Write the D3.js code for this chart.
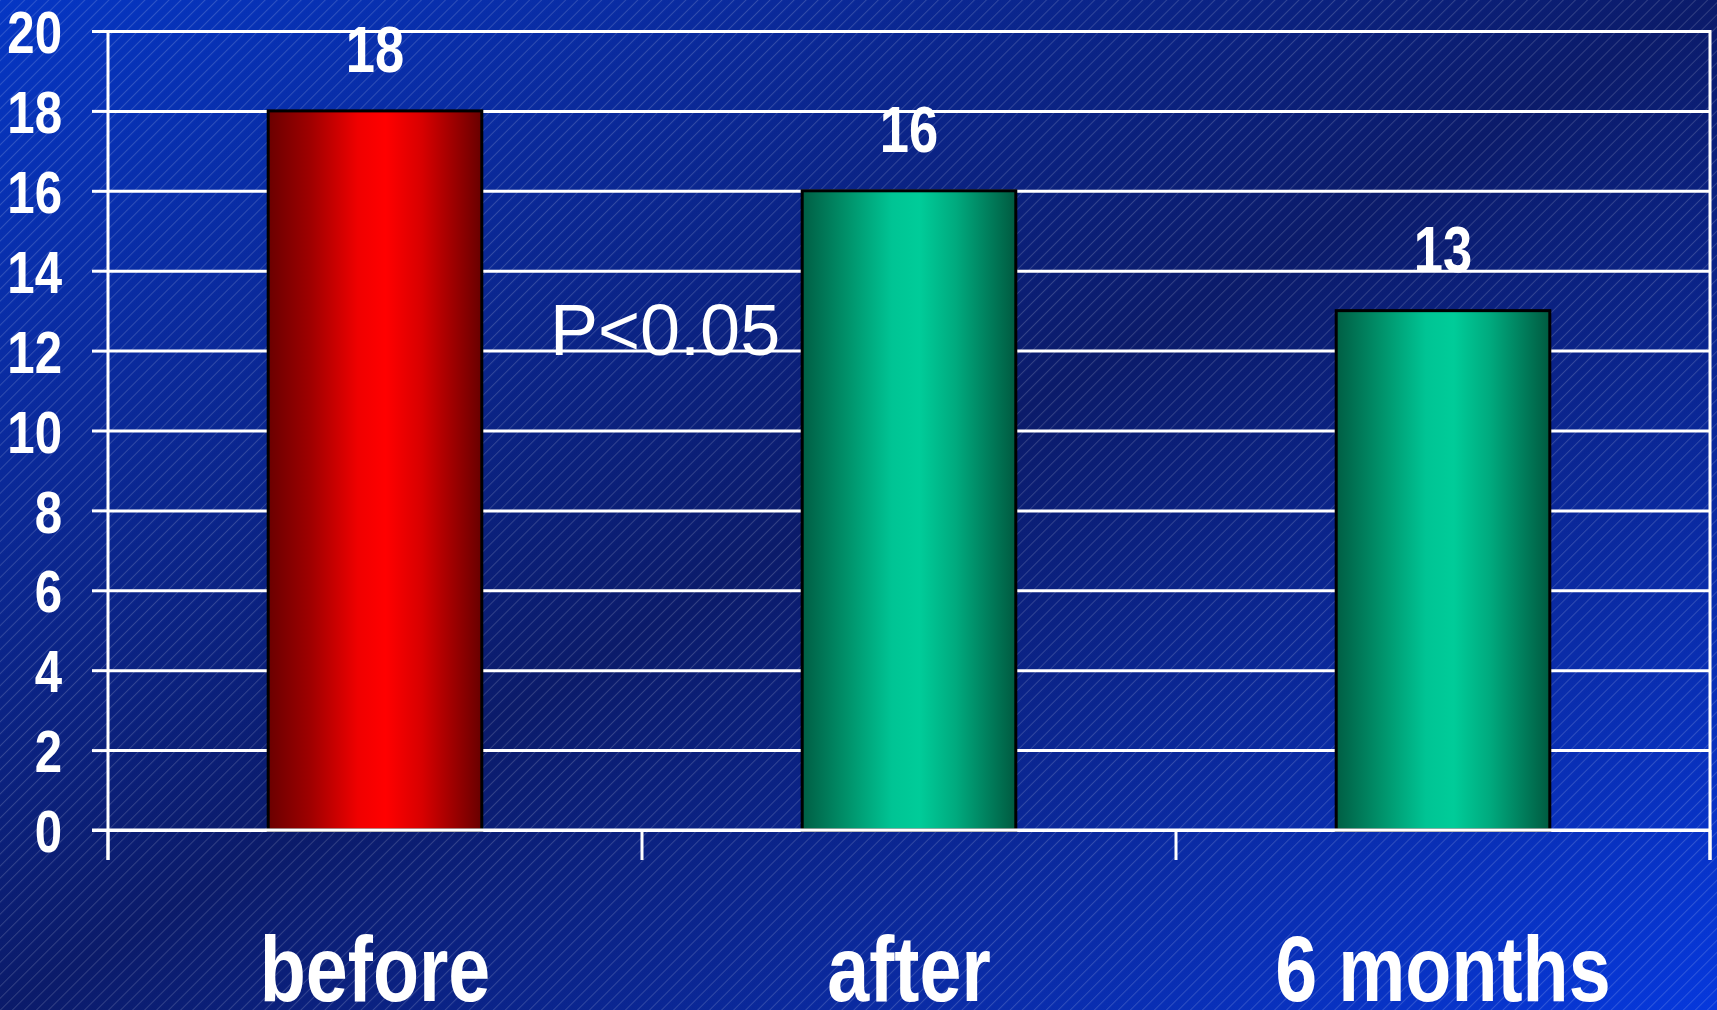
<!DOCTYPE html>
<html>
<head>
<meta charset="utf-8">
<script src="https://cdn.jsdelivr.net/npm/d3@7"></script>
<style>
  html, body { margin: 0; padding: 0; background: #0a1f80; }
  svg { display: block; }
</style>
</head>
<body>
<script>
// Chart data
const categories = ["before", "after", "6 months"];
const values = [18, 16, 13];
const barKinds = ["red", "green", "green"];
const yTicks = [0, 2, 4, 6, 8, 10, 12, 14, 16, 18, 20];
const note = "P<0.05";

const W = 1717, H = 1010;
const margin = { left: 108, right: 7, top: 31 };
const zeroY = 830, tickBottom = 860;
const squeeze = 0.82;   // horizontal compression giving a narrow bold face

const svg = d3.select("body").append("svg")
  .attr("width", W).attr("height", H);

const defs = svg.append("defs");

// Diagonal background: bright corners, dark centre band
const bg = defs.append("linearGradient").attr("id", "bg")
  .attr("x1", "0%").attr("y1", "0%").attr("x2", "100%").attr("y2", "100%");
[[0, "#0536c4"], [0.22, "#0a2a9c"], [0.5, "#0b1b6a"], [0.78, "#0a2ca8"], [1, "#0638dc"]]
  .forEach(([o, c]) => bg.append("stop").attr("offset", o).attr("stop-color", c));

// Fine diagonal hatching
const hatch = defs.append("pattern").attr("id", "hatch")
  .attr("patternUnits", "userSpaceOnUse")
  .attr("width", 8.5).attr("height", 8.5)
  .attr("patternTransform", "rotate(45)");
hatch.append("line")
  .attr("x1", 0.5).attr("y1", 0).attr("x2", 0.5).attr("y2", 8.5)
  .attr("stroke", "#ffffff").attr("stroke-opacity", 0.16).attr("stroke-width", 1);

// Cylinder-like horizontal shading for bars
function barGradient(id, stops) {
  const g = defs.append("linearGradient").attr("id", id)
    .attr("x1", "0%").attr("y1", "0%").attr("x2", "100%").attr("y2", "0%");
  stops.forEach(([o, c]) => g.append("stop").attr("offset", o).attr("stop-color", c));
}
barGradient("red", [[0, "#6a0000"], [0.2, "#a00000"], [0.42, "#f00000"], [0.55, "#ff0000"], [0.72, "#d80000"], [1, "#680000"]]);
barGradient("green", [[0, "#005e44"], [0.22, "#00946c"], [0.42, "#00c494"], [0.55, "#00cc99"], [0.72, "#00aa7e"], [1, "#005a40"]]);

svg.append("rect").attr("width", W).attr("height", H).attr("fill", "url(#bg)");
svg.append("rect").attr("width", W).attr("height", H).attr("fill", "url(#hatch)");

const x = d3.scaleBand()
  .domain(categories)
  .range([margin.left, W - margin.right])
  .paddingInner(0).paddingOuter(0);

const y = d3.scaleLinear()
  .domain([0, 20])
  .range([zeroY, margin.top]);

const boldFont = "'Liberation Sans', Arial, sans-serif";

// Place a narrow bold label: squeeze horizontally around its anchor point
function narrowText(sel, fx, fy) {
  sel.attr("x", (d, i) => fx(d, i) / squeeze)
    .attr("y", (d, i) => fy(d, i))
    .attr("transform", `scale(${squeeze},1)`)
    .attr("fill", "#ffffff")
    .attr("font-family", boldFont)
    .attr("font-weight", "bold");
  return sel;
}

// Horizontal gridlines
const gridG = svg.append("g")
  .attr("transform", `translate(${margin.left},0)`)
  .call(d3.axisLeft(y).tickValues(yTicks).tickSize(-(W - margin.right - margin.left)).tickFormat(""));
gridG.select(".domain").remove();
gridG.selectAll(".tick line").attr("stroke", "#ffffff").attr("stroke-width", 3);

// Short outer ticks and their labels
const tickG = svg.append("g")
  .attr("transform", `translate(${margin.left},0)`)
  .call(d3.axisLeft(y).tickValues(yTicks).tickSize(16).tickPadding(30));
tickG.select(".domain").remove();
tickG.selectAll(".tick line").attr("stroke", "#ffffff").attr("stroke-width", 3);
tickG.selectAll(".tick text")
  .attr("x", -46 / squeeze)
  .attr("transform", `scale(${squeeze},1)`)
  .attr("fill", "#ffffff")
  .attr("font-family", boldFont)
  .attr("font-weight", "bold")
  .attr("font-size", 60)
  .attr("dy", "0.36em");

// Vertical frame lines (left axis and right edge)
[margin.left, W - margin.right].forEach(px => {
  svg.append("line")
    .attr("x1", px).attr("x2", px)
    .attr("y1", y(20) - 1).attr("y2", tickBottom)
    .attr("stroke", "#ffffff").attr("stroke-width", 3);
});

// Category separators below the baseline
const bounds = categories.map(c => x(c)).concat([x(categories[categories.length - 1]) + x.bandwidth()]);
svg.selectAll("line.sep").data(bounds).join("line")
  .attr("class", "sep")
  .attr("x1", d => d).attr("x2", d => d)
  .attr("y1", y(0)).attr("y2", tickBottom)
  .attr("stroke", "#ffffff").attr("stroke-width", 3);

// Bars
const barW = x.bandwidth() * 0.4;
svg.selectAll("rect.bar").data(values).join("rect")
  .attr("class", "bar")
  .attr("x", (d, i) => x(categories[i]) + (x.bandwidth() - barW) / 2)
  .attr("y", d => y(d))
  .attr("width", barW)
  .attr("height", d => y(0) - y(d))
  .attr("fill", (d, i) => `url(#${barKinds[i]})`)
  .attr("stroke", "#000000")
  .attr("stroke-width", 3);

// Baseline drawn over the bar bottoms
svg.append("line")
  .attr("x1", margin.left - 16).attr("x2", W - margin.right)
  .attr("y1", y(0)).attr("y2", y(0))
  .attr("stroke", "#ffffff").attr("stroke-width", 3);

// Value labels
narrowText(
  svg.selectAll("text.val").data(values).join("text").attr("class", "val"),
  (d, i) => x(categories[i]) + x.bandwidth() / 2,
  d => y(d) - 39)
  .attr("text-anchor", "middle")
  .attr("font-size", 64)
  .text(d => d);

// Category labels
narrowText(
  svg.selectAll("text.cat").data(categories).join("text").attr("class", "cat"),
  d => x(d) + x.bandwidth() / 2,
  () => 1001)
  .attr("text-anchor", "middle")
  .attr("font-size", 92)
  .text(d => d);

// Significance note
svg.append("text")
  .attr("x", 550).attr("y", 355)
  .attr("fill", "#ffffff")
  .attr("font-family", boldFont)
  .attr("font-size", 72)
  .text(note);
</script>
</body>
</html>
